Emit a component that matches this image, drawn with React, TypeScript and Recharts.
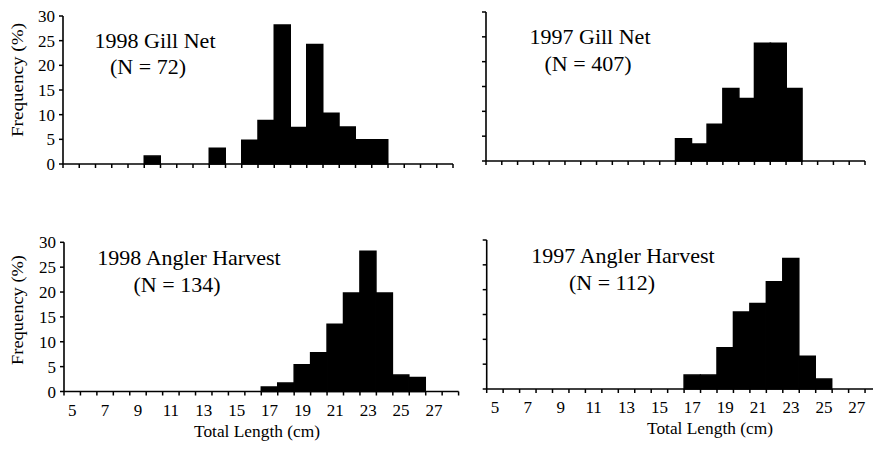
import React from 'react';
import { BarChart, Bar, XAxis, YAxis } from 'recharts';

// Total length classes (cm)
const lengths = [5, 6, 7, 8, 9, 10, 11, 12, 13, 14, 15, 16, 17, 18, 19, 20, 21, 22, 23, 24, 25, 26, 27, 28];
// Labelled length classes
const labelledLengths = [5, 7, 9, 11, 13, 15, 17, 19, 21, 23, 25, 27];
const freqTicks = [0, 5, 10, 15, 20, 25, 30];

// Frequency (%) per length class
const gillNet1998 = [0, 0, 0, 0, 0, 1.6, 0, 0, 0, 3.2, 0, 4.8, 8.8, 28.2, 7.4, 24.2, 10.3, 7.5, 4.9, 4.9, 0, 0, 0, 0];
const gillNet1997 = [0, 0, 0, 0, 0, 0, 0, 0, 0, 0, 0, 0, 4.5, 3.4, 7.4, 14.6, 12.6, 23.7, 23.7, 14.6, 0, 0, 0, 0];
const angler1998 = [0, 0, 0, 0, 0, 0, 0, 0, 0, 0, 0, 0, 0.9, 1.7, 5.4, 7.8, 13.5, 19.8, 28.2, 19.8, 3.3, 2.8, 0, 0];
const angler1997 = [0, 0, 0, 0, 0, 0, 0, 0, 0, 0, 0, 0, 2.8, 2.8, 8.3, 15.5, 17.2, 21.6, 26.3, 6.6, 2.0, 0, 0, 0];

const titles = [
  ['1998 Gill Net', '(N = 72)'],
  ['1997 Gill Net', '(N = 407)'],
  ['1998 Angler Harvest', '(N = 134)'],
  ['1997 Angler Harvest', '(N = 112)'],
];
const yLabel = 'Frequency (%)';
const xLabel = 'Total Length (cm)';

const FONT = '"Liberation Serif", "Times New Roman", serif';

const emptyTick = () => <g />;

// Tick marks at class boundaries; labels at class centres (odd lengths only)
function makeXTick(showLabels: boolean) {
  return (props: any) => {
    const { x, y, payload, index, visibleTicksCount } = props;
    const half = payload && typeof payload.offset === 'number' ? payload.offset : 0;
    const isLast = index === visibleTicksCount - 1;
    return (
      <g>
        <line x1={x - half} x2={x - half} y1={y} y2={y + 4} stroke="#000" strokeWidth={1.5} />
        {isLast && <line x1={x + half} x2={x + half} y1={y} y2={y + 4} stroke="#000" strokeWidth={1.5} />}
        {showLabels && labelledLengths.includes(payload.value) && (
          <text x={x} y={y + 12} dy="0.71em" textAnchor="middle" fontSize={17} fontFamily={FONT} fill="#000">
            {payload.value}
          </text>
        )}
      </g>
    );
  };
}

type PanelProps = {
  values: number[];
  left: number;
  top: number;
  width: number;
  height: number;
  yAxisWidth: number;
  marginTop: number;
  marginRight: number;
  showYLabels: boolean;
  showXLabels: boolean;
};

function Panel(p: PanelProps) {
  const rows = lengths.map((len, i) => ({ len, freq: p.values[i] }));
  return (
    <div style={{ position: 'absolute', left: p.left, top: p.top }}>
      <BarChart
        width={p.width}
        height={p.height}
        data={rows}
        barCategoryGap={0}
        barGap={0}
        margin={{ top: p.marginTop, right: p.marginRight, left: 0, bottom: 0 }}
      >
        <XAxis
          dataKey="len"
          type="category"
          interval={0}
          height={36}
          tickSize={0}
          tickMargin={0}
          tickLine={false}
          axisLine={{ stroke: '#000', strokeWidth: 1.6 }}
          tick={makeXTick(p.showXLabels)}
        />
        <YAxis
          type="number"
          domain={[0, 30]}
          ticks={freqTicks}
          interval={0}
          width={p.yAxisWidth}
          tickSize={4}
          tickMargin={4}
          tickLine={{ stroke: '#000', strokeWidth: 1.5 }}
          axisLine={{ stroke: '#000', strokeWidth: 1.6 }}
          tick={p.showYLabels ? { fill: '#000', fontSize: 17, fontFamily: FONT } : emptyTick}
        />
        <Bar dataKey="freq" fill="#000" stroke="#000" strokeWidth={1.5} isAnimationActive={false} />
      </BarChart>
    </div>
  );
}

export default function App() {
  return (
    <div
      style={{
        position: 'fixed',
        left: 0,
        top: 0,
        width: 873,
        height: 453,
        overflow: 'hidden',
        background: '#fff',
      }}
    >
      <Panel values={gillNet1998} left={0} top={0} width={457} height={200} yAxisWidth={63}
        marginTop={16} marginRight={4} showYLabels showXLabels={false} />
      <Panel values={gillNet1997} left={440} top={0} width={429} height={197} yAxisWidth={46}
        marginTop={12} marginRight={4} showYLabels={false} showXLabels={false} />
      <Panel values={angler1998} left={0} top={226} width={461.6} height={201.5} yAxisWidth={64}
        marginTop={16.3} marginRight={3} showYLabels showXLabels />
      <Panel values={angler1997} left={440} top={226} width={443.5} height={199} yAxisWidth={46.7}
        marginTop={14} marginRight={2} showYLabels={false} showXLabels />
      <svg
        width={873}
        height={453}
        style={{ position: 'absolute', left: 0, top: 0, pointerEvents: 'none' }}
        fontFamily={FONT}
        fill="#000"
      >
        <text x={155} y={48} fontSize={22} textAnchor="middle">{titles[0][0]}</text>
        <text x={148} y={74} fontSize={22} textAnchor="middle">{titles[0][1]}</text>
        <text x={590} y={44} fontSize={22} textAnchor="middle">{titles[1][0]}</text>
        <text x={588} y={71} fontSize={22} textAnchor="middle">{titles[1][1]}</text>
        <text x={189} y={265} fontSize={22} textAnchor="middle">{titles[2][0]}</text>
        <text x={177} y={292} fontSize={22} textAnchor="middle">{titles[2][1]}</text>
        <text x={623} y={263} fontSize={22} textAnchor="middle">{titles[3][0]}</text>
        <text x={612} y={290} fontSize={22} textAnchor="middle">{titles[3][1]}</text>

        <text x={23} y={80} fontSize={16} textAnchor="middle" textLength={114} lengthAdjust="spacingAndGlyphs"
          transform="rotate(-90, 23, 80)">{yLabel}</text>
        <text x={23} y={310} fontSize={16} textAnchor="middle" textLength={110} lengthAdjust="spacingAndGlyphs"
          transform="rotate(-90, 23, 310)">{yLabel}</text>

        <text x={257} y={437} fontSize={17} textAnchor="middle" textLength={126} lengthAdjust="spacingAndGlyphs">{xLabel}</text>
        <text x={710} y={434} fontSize={17} textAnchor="middle" textLength={126} lengthAdjust="spacingAndGlyphs">{xLabel}</text>
      </svg>
    </div>
  );
}
